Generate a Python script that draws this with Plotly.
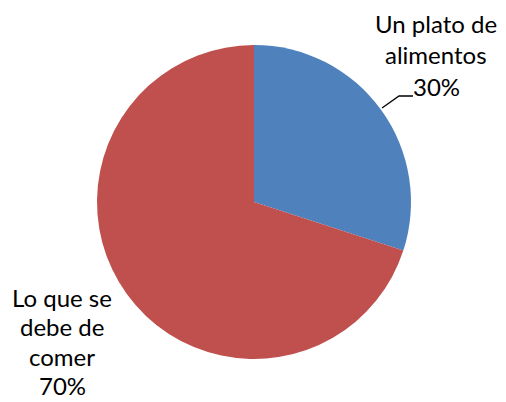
import plotly.graph_objects as go

categories = ["Un plato de<br>alimentos", "Lo que se<br>debe de<br>comer"]
values = [30, 70]
colors = ["#4F81BD", "#C0504D"]

W, H = 506, 402
cx, cy, r = 254, 202, 157

fig = go.Figure(go.Pie(
    labels=[c.replace("<br>", " ") for c in categories],
    values=values,
    sort=False,
    direction="clockwise",
    rotation=0,
    marker=dict(colors=colors, line=dict(width=0)),
    textinfo="none",
    hoverinfo="label+percent",
    domain=dict(x=[(cx - r) / W, (cx + r) / W], y=[(H - cy - r) / H, (H - cy + r) / H]),
    showlegend=False,
))

total = sum(values)
# label anchor positions (pixel, top-left origin) for first line centers, line spacing
label_pos = [(436, 24, 31), (62, 297, 29.5)]
font = dict(family="Lato, 'Liberation Sans', sans-serif", size=24, color="#000000")
for cat, val, (lx, ly, lh) in zip(categories, values, label_pos):
    lines = cat.split("<br>") + [f"{round(val / total * 100)}%"]
    for i, t in enumerate(lines):
        fig.add_annotation(
            x=lx / W, y=1 - (ly + i * lh) / H, xref="paper", yref="paper",
            text=t, showarrow=False, font=font, xanchor="center", yanchor="middle",
            borderpad=0,
        )

# leader line for the first slice
pts = [(382, 108), (399, 96), (413, 96)]
path = "M " + " L ".join(f"{x / W},{1 - y / H}" for x, y in pts)
fig.add_shape(type="path", path=path, xref="paper", yref="paper",
              line=dict(color="#000000", width=1.3))

fig.update_layout(
    width=W, height=H,
    margin=dict(l=0, r=0, t=0, b=0),
    paper_bgcolor="white", plot_bgcolor="white",
)
fig.write_html("out.html", config={"displayModeBar": False},
               post_script="document.body.style.margin='0px';document.body.style.overflow='hidden';")
